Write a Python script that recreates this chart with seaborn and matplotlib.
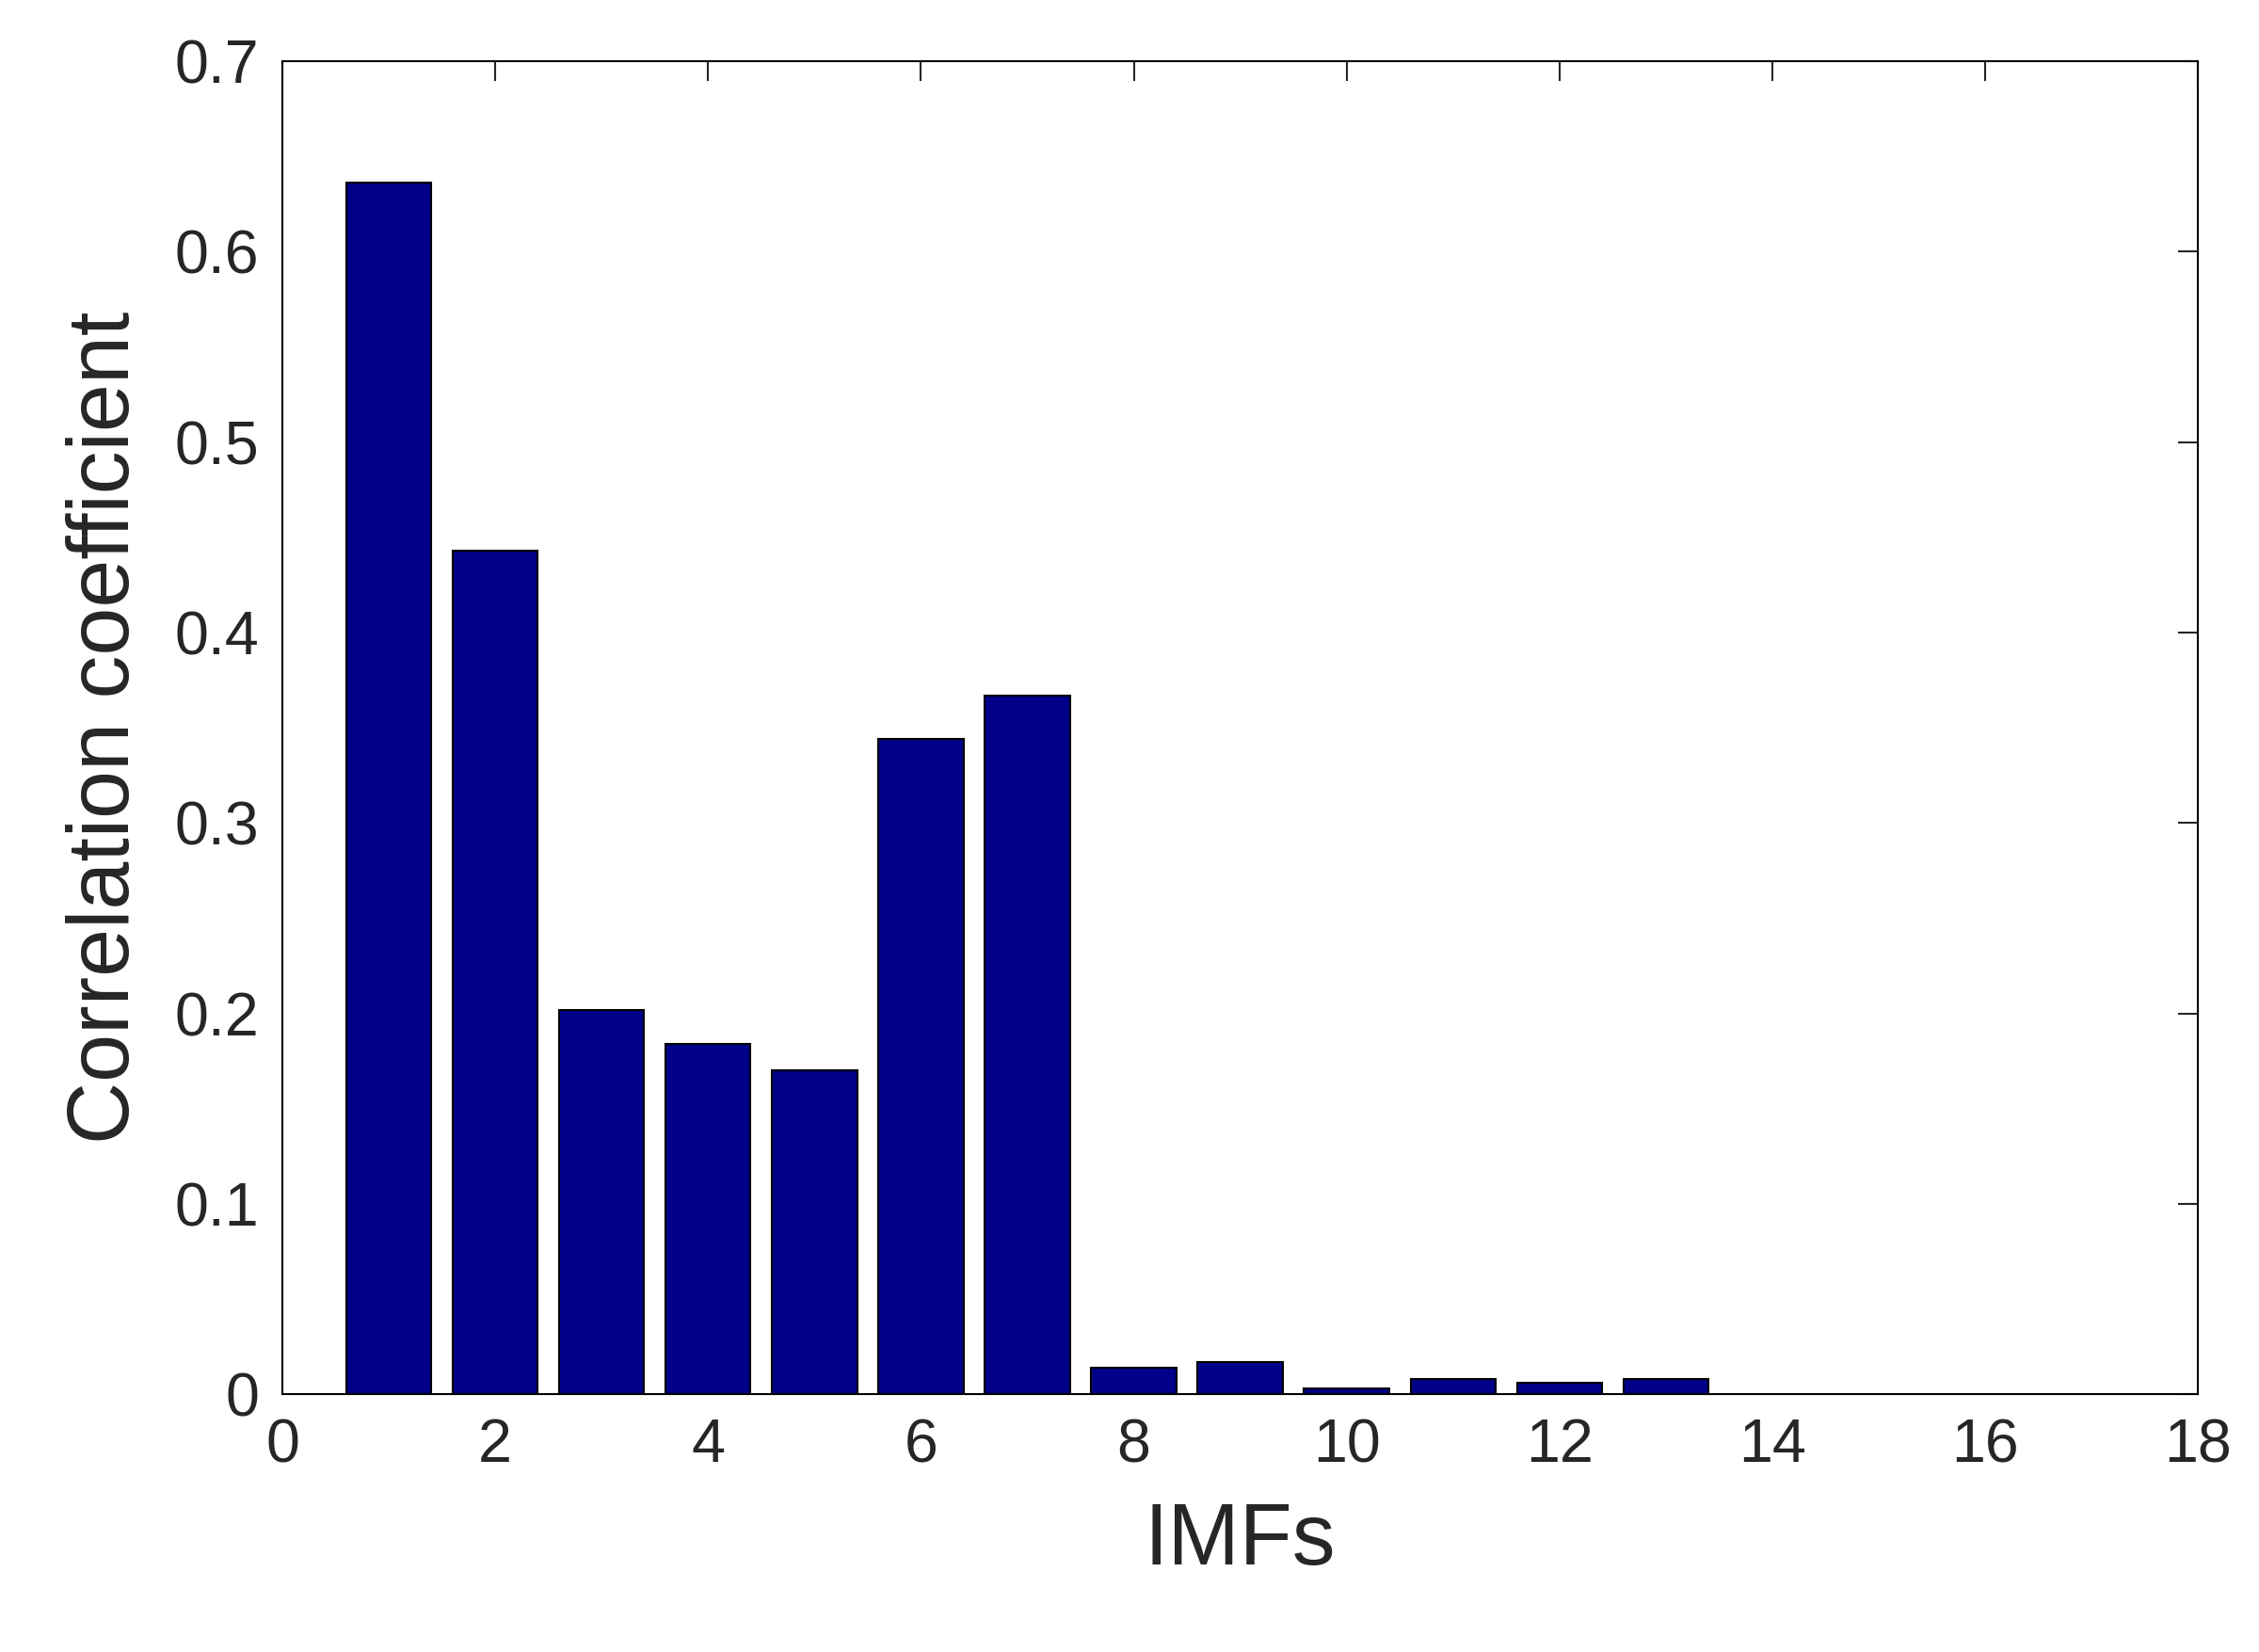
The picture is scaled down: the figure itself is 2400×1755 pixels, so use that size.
import matplotlib
matplotlib.use("Agg")
import matplotlib.pyplot as plt
import pandas as pd
import seaborn as sns

imfs = list(range(1, 14))
corr = [0.636, 0.443, 0.202, 0.184, 0.170, 0.344, 0.367, 0.014, 0.017, 0.003, 0.008, 0.006, 0.008]
df = pd.DataFrame({"imf": imfs, "corr": corr})

sns.set_style("white")
plt.rcParams["font.family"] = ["Liberation Sans", "DejaVu Sans"]

fig = plt.figure(figsize=(16, 11.7), dpi=150)
ax = fig.add_axes([0.125, 0.156, 0.848, 0.807])
sns.barplot(data=df, x="imf", y="corr", native_scale=True, color="#000088",
            saturation=1, edgecolor="black", linewidth=1.0, width=0.8, ax=ax)

ax.set_xlim(0, 18)
ax.set_ylim(0, 0.7)
ax.set_xticks(range(0, 19, 2))
ax.set_yticks([0, 0.1, 0.2, 0.3, 0.4, 0.5, 0.6, 0.7])
ax.set_yticklabels(["0", "0.1", "0.2", "0.3", "0.4", "0.5", "0.6", "0.7"])
ax.tick_params(direction="in", top=True, right=True, length=10, width=1,
               labelsize=31, pad=12)
for s in ax.spines.values():
    s.set_color("black")
    s.set_linewidth(1)
ax.set_xlabel("IMFs", fontsize=44, labelpad=14)
ax.set_ylabel("Correlation coefficient", fontsize=44, labelpad=14)

fig.savefig("out.png", dpi=150)
